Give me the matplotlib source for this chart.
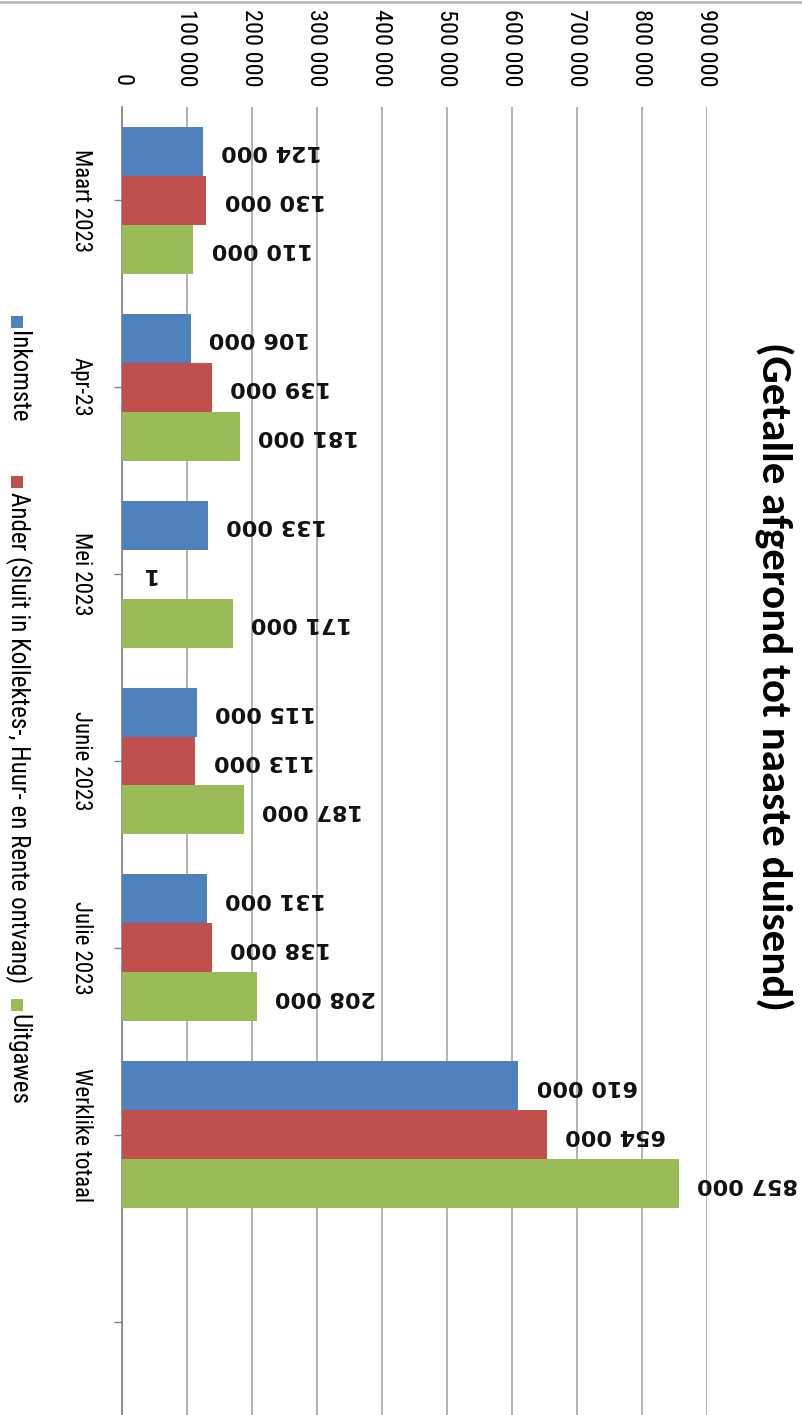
import numpy as np
import matplotlib
matplotlib.use('Agg')
import matplotlib.pyplot as plt
from matplotlib.patches import Rectangle
from matplotlib.lines import Line2D

# data
categories = ['Maart 2023', 'Apr-23', 'Mei 2023', 'Junie 2023', 'Julie 2023', 'Werklike totaal', '']
inkomste = [124000, 106000, 133000, 115000, 131000, 610000]
ander = [130000, 139000, 1, 113000, 138000, 654000]
uitgawes = [110000, 181000, 171000, 187000, 208000, 857000]
series_names = ['Inkomste', 'Ander (Sluit in Kollektes-, Huur- en Rente ontvang)', 'Uitgawes']
x_ticks = [0, 100000, 200000, 300000, 400000, 500000, 600000, 700000, 800000, 900000]
title = '(Getalle afgerond tot naaste duisend)'

colors = ['#4F81BD', '#C0504D', '#9BBB59']

narrow = ['Roboto Condensed', 'DejaVu Sans']


def fmt(v):
    return f'{v:,}'.replace(',', ' ')


fig = plt.figure(figsize=(8.03, 14.15), dpi=100)
ax = fig.add_axes([122 / 803, 0.0, 585 / 803, (1415 - 107) / 1415])

n = len(categories)
y = np.arange(n)
bh = 0.262
all_series = [inkomste, ander, uitgawes]
for k, vals in enumerate(all_series):
    pos = y[:len(vals)] + (k - 1) * bh
    ax.barh(pos, vals, height=bh, color=colors[k], zorder=3)
    for p, v in zip(pos, vals):
        ax.annotate(fmt(v), xy=(v, p), xytext=(13, 0), textcoords='offset points',
                    rotation=180, ha='left', va='center', fontsize=16,
                    fontweight='bold', family='DejaVu Sans', color='#111111')

ax.set_xlim(0, 900000)
ax.set_ylim(n - 0.5, -0.5)

# value axis on top, labels turned like the rest of the picture
ax.xaxis.tick_top()
ax.set_xticks(x_ticks)
ax.set_xticklabels([fmt(v) for v in x_ticks], rotation=-90, family=narrow,
                   fontsize=17.5, va='bottom', ha='center')
ax.tick_params(axis='x', length=0, pad=15)
ax.grid(axis='x', color='#a6a6a6', linewidth=1.2, zorder=0)

ax.set_yticks(y)
ax.set_yticklabels(categories, rotation=-90, family=narrow, fontsize=16.5,
                   va='center', ha='right')
ax.tick_params(axis='y', length=6, width=1, color='#808080', pad=15)

for s in ['top', 'right', 'bottom']:
    ax.spines[s].set_visible(False)
ax.spines['left'].set_color('#808080')
ax.spines['left'].set_linewidth(1.2)

# title on the right
fig.text(774 / 803, 1 - 676 / 1415, title, rotation=-90, ha='center', va='center',
         family=['Carlito', 'DejaVu Sans'], fontsize=31, fontweight='bold')

# legend drawn by hand, rotated like the rest
leg_x = 18
leg_items = [(322, 331), (482, 492), (1005, 1014)]
for (sq_y, txt_y), c, name in zip(leg_items, colors, series_names):
    fig.add_artist(Rectangle(((leg_x - 7) / 803, 1 - (sq_y + 6) / 1415), 12 / 803, 12 / 1415,
                             transform=fig.transFigure, facecolor=c, edgecolor='none'))
    fig.text(leg_x / 803, 1 - txt_y / 1415, name, rotation=-90, ha='center', va='top',
             family=narrow, fontsize=18)

# thin frame line at the very top
fig.add_artist(Line2D([0, 1], [1 - 2 / 1415, 1 - 2 / 1415], transform=fig.transFigure,
                      color='#bbbbbb', linewidth=2))

fig.savefig('out.png', dpi=100)
